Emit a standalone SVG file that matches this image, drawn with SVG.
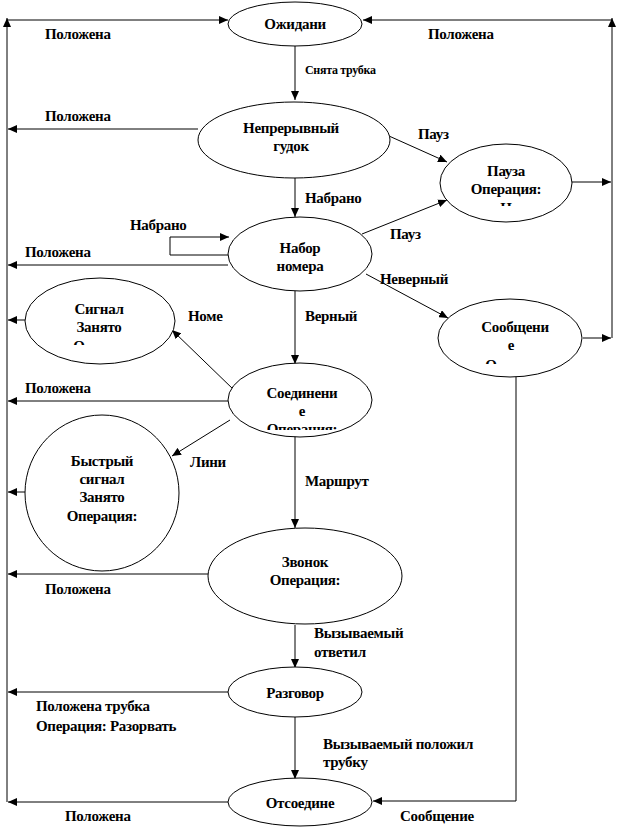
<svg xmlns="http://www.w3.org/2000/svg" width="617" height="832" viewBox="0 0 617 832">
<style>
.n{fill:#fff;stroke:#000;stroke-width:1}
text{font-family:'Liberation Serif',Tinos,'Times New Roman','DejaVu Serif',serif;font-weight:bold;font-size:15px;fill:#000;letter-spacing:-0.3px}
.t{text-anchor:middle}
.s{font-size:12px}
.c line,.c polyline{stroke:#000;stroke-width:1;fill:none}
.a{marker-end:url(#ah)}
</style>
<defs>
<marker id="ah" markerUnits="userSpaceOnUse" markerWidth="10" markerHeight="8" refX="9" refY="4" orient="auto">
<path d="M0,0 L9,4 L0,8 Z" fill="#000"/>
</marker>
<clipPath id="cp1"><rect x="440" y="145" width="132" height="61"/></clipPath>
<clipPath id="cp2"><rect x="438" y="300" width="145" height="64"/></clipPath>
<clipPath id="cp3"><rect x="25" y="278" width="150" height="67"/></clipPath>
<clipPath id="cp4"><rect x="228" y="364" width="144" height="66"/></clipPath>
</defs>

<g class="c" id="connectors">
<polyline points="7,802 7,18" class="a"/>
<line x1="7" y1="20" x2="228" y2="20" class="a"/>
<polyline points="612,338 612,18" class="a"/>
<line x1="612" y1="20" x2="363" y2="20" class="a"/>
<line x1="295" y1="46" x2="295" y2="100" class="a"/>
<line x1="198" y1="129" x2="8" y2="129" class="a"/>
<line x1="389" y1="136" x2="447" y2="162" class="a"/>
<line x1="572" y1="182" x2="611" y2="182" class="a"/>
<line x1="295" y1="178" x2="295" y2="217" class="a"/>
<polyline points="229,255 170,255 170,237 229,237" class="a"/>
<line x1="228" y1="265" x2="8" y2="265" class="a"/>
<line x1="362" y1="234" x2="447" y2="200" class="a"/>
<line x1="366" y1="274" x2="448" y2="318" class="a"/>
<line x1="583" y1="338" x2="611" y2="338" class="a"/>
<polyline points="516,377 516,801 373,801" class="a"/>
<line x1="295" y1="291" x2="295" y2="364" class="a"/>
<line x1="234" y1="390" x2="172" y2="330" class="a"/>
<line x1="25" y1="320" x2="8" y2="320" class="a"/>
<line x1="228" y1="401" x2="8" y2="401" class="a"/>
<line x1="230" y1="420" x2="172" y2="456" class="a"/>
<line x1="25" y1="492" x2="8" y2="492" class="a"/>
<line x1="295" y1="436" x2="295" y2="528" class="a"/>
<line x1="208" y1="574" x2="8" y2="574" class="a"/>
<line x1="295" y1="625" x2="295" y2="668" class="a"/>
<line x1="228" y1="692" x2="8" y2="692" class="a"/>
<line x1="295" y1="717" x2="295" y2="779" class="a"/>
<line x1="228" y1="802" x2="8" y2="802" class="a"/>
</g>

<g id="labels">
<text x="45" y="39">Положена</text>
<text x="428" y="39">Положена</text>
<text class="s" x="305" y="74">Снята трубка</text>
<text x="45" y="121">Положена</text>
<text x="418" y="139">Пауз</text>
<text x="305" y="203">Набрано</text>
<text x="130" y="230">Набрано</text>
<text x="25" y="257">Положена</text>
<text x="390" y="239">Пауз</text>
<text x="380" y="284">Неверный</text>
<text x="188" y="321">Номе</text>
<text x="305" y="321">Верный</text>
<text x="25" y="393">Положена</text>
<text x="190" y="467">Лини</text>
<text x="305" y="486">Маршрут</text>
<text x="45" y="594">Положена</text>
<text x="314" y="638">Вызываемый</text>
<text x="314" y="657">ответил</text>
<text x="36" y="711">Положена трубка</text>
<text x="36" y="731">Операция: Разорвать</text>
<text x="323" y="749">Вызываемый положил</text>
<text x="323" y="767">трубку</text>
<text x="65" y="821">Положена</text>
<text x="400" y="821">Сообщение</text>
</g>

<g id="n-wait">
<ellipse class="n" cx="295" cy="24" rx="67" ry="22"/>
<text class="t" x="295" y="29">Ожидани</text>
</g>
<g id="n-tone">
<ellipse class="n" cx="294" cy="140" rx="96" ry="38"/>
<text class="t" x="291" y="133">Непрерывный</text>
<text class="t" x="291" y="151">гудок</text>
</g>
<g id="n-pause">
<ellipse class="n" cx="506" cy="183" rx="66" ry="39"/>
<g clip-path="url(#cp1)">
<text class="t" x="506" y="176">Пауза</text>
<text class="t" x="506" y="194">Операция:</text>
<text class="t" x="506" y="213">Н</text>
</g>
</g>
<g id="n-dial">
<ellipse class="n" cx="300" cy="254" rx="72" ry="37"/>
<text class="t" x="300" y="253">Набор</text>
<text class="t" x="300" y="271">номера</text>
</g>
<g id="n-msg">
<ellipse class="n" cx="510" cy="338" rx="72" ry="39"/>
<g clip-path="url(#cp2)">
<text class="t" x="515" y="332">Сообщени</text>
<text class="t" x="511" y="350">е</text>
<text class="t" x="491" y="370">О</text>
</g>
</g>
<g id="n-busy">
<ellipse class="n" cx="100" cy="321" rx="75" ry="43"/>
<g clip-path="url(#cp3)">
<text class="t" x="99" y="314">Сигнал</text>
<text class="t" x="99" y="332">Занято</text>
<text class="t" x="79" y="351">О</text>
</g>
</g>
<g id="n-connect">
<ellipse class="n" cx="300" cy="400" rx="72" ry="37"/>
<g clip-path="url(#cp4)">
<text class="t" x="302" y="398">Соединени</text>
<text class="t" x="302" y="416">е</text>
<text class="t" x="302" y="434">Операция:</text>
</g>
</g>
<g id="n-fastbusy">
<ellipse class="n" cx="102" cy="493" rx="77" ry="78"/>
<text class="t" x="102" y="466">Быстрый</text>
<text class="t" x="102" y="484">сигнал</text>
<text class="t" x="102" y="502">Занято</text>
<text class="t" x="102" y="521">Операция:</text>
</g>
<g id="n-ring">
<ellipse class="n" cx="305" cy="576" rx="97" ry="48"/>
<text class="t" x="305" y="567">Звонок</text>
<text class="t" x="305" y="585">Операция:</text>
</g>
<g id="n-talk">
<ellipse class="n" cx="295" cy="692" rx="67" ry="25"/>
<text class="t" x="295" y="698">Разговор</text>
</g>
<g id="n-disc">
<ellipse class="n" cx="300" cy="802" rx="72" ry="24"/>
<text class="t" x="300" y="808">Отсоедине</text>
</g>
</svg>
